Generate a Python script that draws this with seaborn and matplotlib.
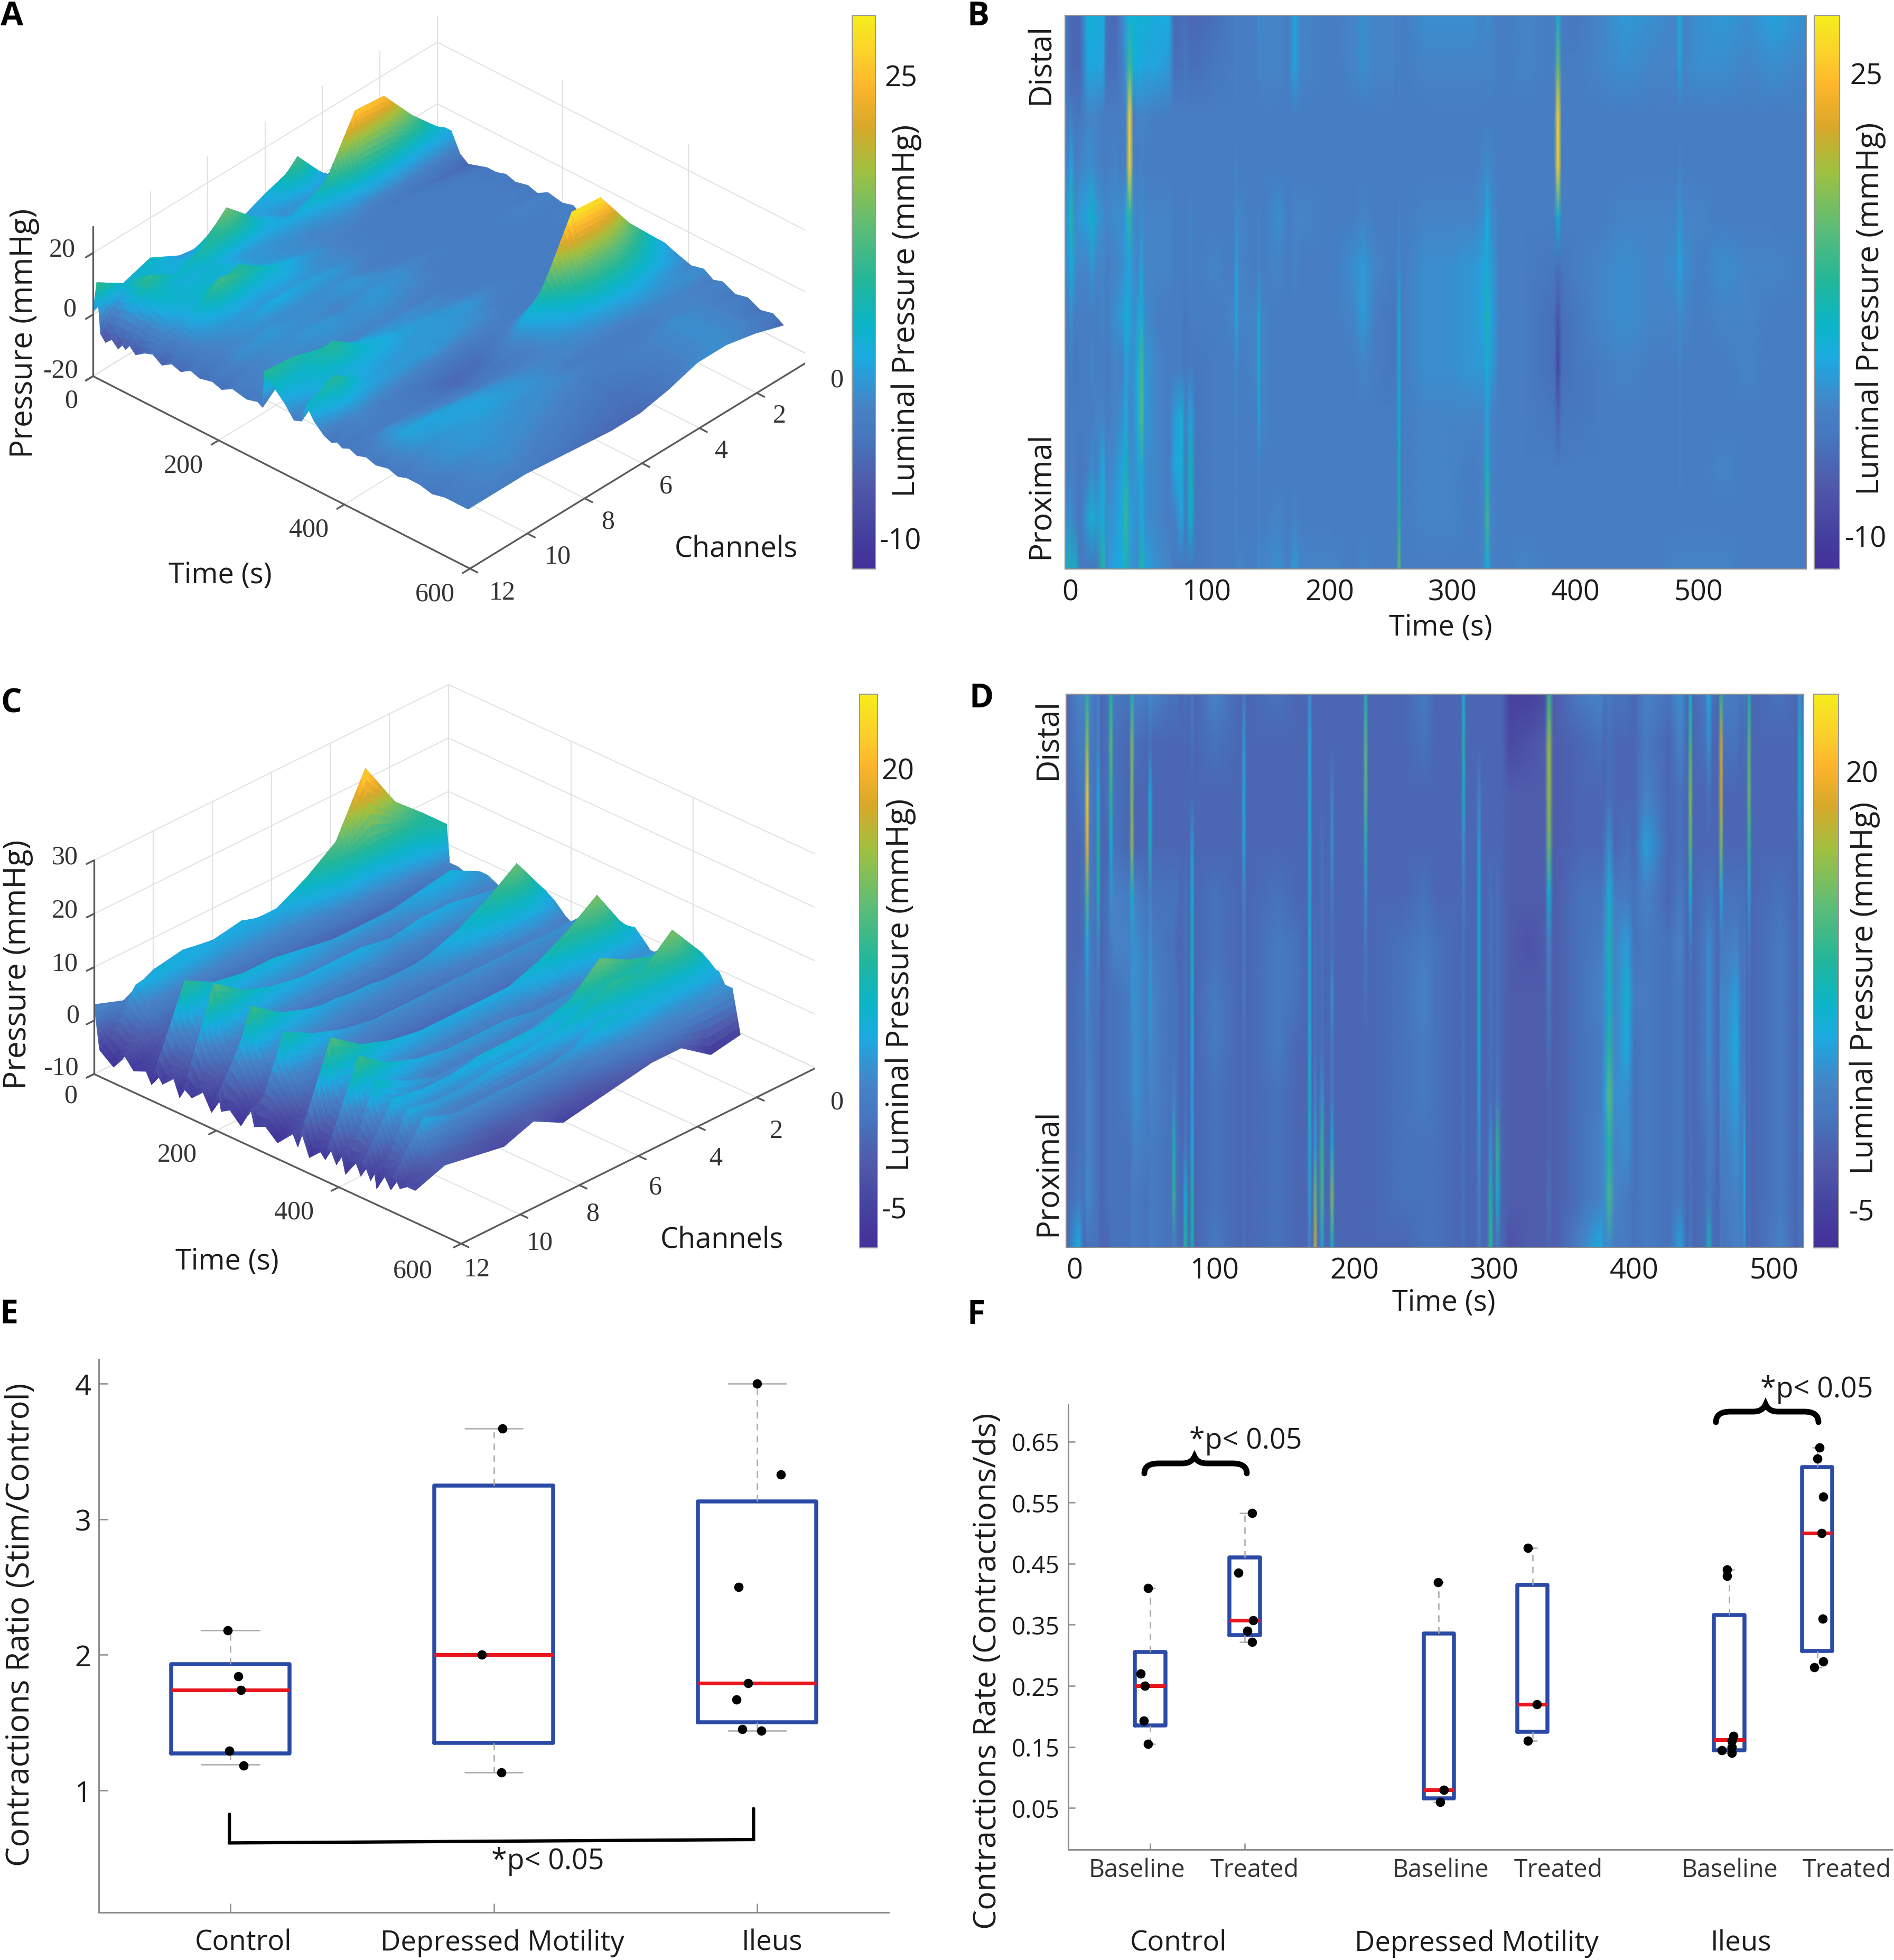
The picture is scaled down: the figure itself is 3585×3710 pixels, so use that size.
"""
Colonic manometry figure: two pressure surfaces, two heatmaps and two box plots.
"""
import matplotlib
matplotlib.use("Agg")
import matplotlib.pyplot as plt
import numpy as np
import seaborn as sns
from matplotlib.cm import ScalarMappable
from matplotlib.colors import LinearSegmentedColormap, Normalize
from matplotlib.patches import PathPatch
from matplotlib.path import Path
from mpl_toolkits.mplot3d import proj3d

W, H = 3585, 3711

channels = list(range(1, 13))

# colour scale
scale_stops = [0, 0.06, 0.15, 0.24, 0.29, 0.38, 0.44, 0.52, 0.62, 0.72, 0.80, 0.87, 0.93, 1]
scale_colors = ["#43309a", "#453f9e", "#5059aa", "#4677bf", "#4782c6", "#1caae0", "#0cb4c8",
                "#22b69a", "#5fbc76", "#a0c040", "#d8a82a", "#fcb42c", "#fbd02b", "#f5ec1c"]

a_range = (-12.25, 29.5)
c_range = (-7.17, 24.47)

# panel A surface, one row per time, channels 1-12
a_times = [0, 6, 12, 20, 30, 40, 47, 52, 58, 68, 82, 95, 110, 125, 140, 155, 170, 190, 205, 222, 245,
           262, 270, 273, 290, 305, 320, 332, 340, 352, 368, 380, 388, 397, 408, 420, 435, 450, 470,
           485, 500, 520, 540, 560, 580, 597]
a_surface = [
    [-1, -1, -1, -1, 8, 5, 1, 0, 2, 7, 4, 1],
    [-2, -1, -1, 0, 12, 3, 2, 3, 2, 6, 5, 11],
    [-1, -1, 0, 1, 9, 3, 3, 6, 3, 5, 6, -5],
    [-2, 0, 1, 2, 5, 2, 3, 10, 4, 5, 8, -7],
    [-1, 1, 2, 3, 2, 1, 6, 15, 6, 3, 9, -5],
    [0, 3, 8, 10, 4, 2, 5, 10, 9, 6, 11, -7],
    [2, 10, 18, 20, 7, 3, 4, 6, 7, 5, 8, -5],
    [3, 13, 25, 26, 9, 4, 3, 3, 5, 4, 7, -6],
    [4, 10, 16, 17, 6, 3, 2, 2, 5, 5, 7, -4],
    [4, 4, 6, 6, 3, 1, 1, 2, 6, 5, 6, -6],
    [-2, -1, 0, 0, 1, 0, 1, 2, 4, 6, 5, -4],
    [-4, -3, -2, -1, 0, 0, 1, 3, 9, 7, 3, -3],
    [-3, -2, -1, -1, -1, 0, 2, 5, 9, 12, 3, -5],
    [-2, -1, -1, -1, -1, 0, 1, 4, 4, 5, 2, -3],
    [-2, -1, -1, -1, -1, 0, 1, 2, 2, 2, 1, -4],
    [-1, -1, -1, -1, -1, 0, 2, 3, 4, 2, 0, -2],
    [-2, -1, -1, -1, -1, -1, 1, 1, 1, 1, 0, -3],
    [-1, -1, -1, -1, -1, 0, 2, 1, 1, 2, 1, -2],
    [-2, -1, -1, -1, 0, 1, 1, 0, 1, 1, 0, -3],
    [0, 0, -1, -1, -1, 1, 2, 1, 2, 1, 0, -1],
    [-1, -1, -1, -1, -1, 0, 1, 1, 1, 0, 1, -2],
    [0, -1, -1, -1, -1, -1, 0, 0, 0, 1, 2, -1],
    [-1, -1, -1, -1, -1, 0, 0, 1, 1, 3, 6, -2],
    [0, -1, -1, -1, -1, 0, 1, 1, 2, 6, 9, 10],
    [-1, -1, -1, -1, -1, 0, 1, 2, 4, 10, 6, 6],
    [0, -1, -1, -1, 0, 1, 2, 3, 5, 8, 5, 3],
    [-1, -1, -1, -1, 0, 2, 2, 2, 4, 4, 5, -1],
    [0, -1, -1, -1, -1, 1, 2, 2, 2, 4, 8, 0],
    [-1, -1, -1, -1, -1, 1, 2, 2, 2, 3, 10, 6],
    [0, -1, -1, -1, -1, 0, 1, 2, 2, 3, 6, 2],
    [-1, -1, -1, -1, -1, -1, -2, -2, -1, 0, 1, -1],
    [-1, 3, 6, 8, 3, -1, -3, -3, -2, -1, 0, -2],
    [1, 8, 17, 19, 6, 0, -3, -4, -2, -1, 0, -1],
    [3, 14, 28, 29, 10, 1, -3, -4, -2, -1, -1, -2],
    [3, 10, 19, 20, 7, 1, -2, -3, -2, -1, -1, -1],
    [2, 7, 12, 12, 5, 0, -2, -2, -1, 0, 1, -2],
    [1, 5, 7, 7, 3, 0, -1, -1, 0, 1, 2, -1],
    [0, 2, 4, 3, 1, 0, 0, 1, 2, 3, 3, -2],
    [1, 1, 1, 0, 0, 0, 1, 2, 3, 3, 2, -1],
    [-1, 0, 0, -1, -1, -1, 1, 2, 3, 2, 1, -2],
    [0, 0, 0, -1, -1, 0, 1, 1, 2, 2, 1, -1],
    [-2, 0, 1, 0, -1, -1, 0, 1, 1, 2, 1, -1],
    [-1, 0, 1, 0, -1, -2, -1, 0, 1, 1, 0, -2],
    [-3, 0, 1, 0, -2, -3, -2, -1, 0, 1, 0, -1],
    [-2, 0, 1, 0, -2, -3, -3, -2, -1, 0, 0, -1],
    [-4, -1, 1, 1, -2, -4, -4, -3, -2, -1, -1, -1],
]

# panel B heatmap, one row per time, channels 1-12
quiet = [-1, -1, -1, -1, -1, -1, -1, -1, -1, -1, -1, -1]
b_times = [0, 3, 5, 8, 12, 18, 22, 25, 31, 33, 40, 46, 49, 52, 55, 58, 62, 64, 75, 84, 88, 94, 97,
           101, 105, 120, 136, 138, 140, 154, 156, 158, 172, 180, 185, 190, 215, 232, 240, 250, 265,
           267, 269, 271, 290, 310, 330, 337, 340, 343, 350, 370, 394, 397, 400, 410, 430, 450, 475,
           492, 495, 498, 510, 530, 550, 570, 597]
b_pressure = [
    [-2, -2, -1, -1, 0, 0, -1, -1, -1, -1, 0, 3],
    [-3, -3, -1, 1, 4, 2, 0, -1, -1, -1, 1, 8],
    [-4, -4, -1, 3, 9, 5, 1, -1, -1, -1, 1, 2],
    [-4, -4, -2, -1, 1, 1, -1, -2, -1, -1, -1, 7],
    [-4, -4, -2, 0, 2, 0, -1, -1, -1, -2, -2, -2],
    [4, 3, 0, 1, 3, 0, -1, -1, -1, -1, 2, -2],
    [5, 4, 0, 1, 6, 2, -1, 0, -1, 1, 6, -2],
    [4, 3, 0, 0, 2, 0, -1, -1, 0, -1, 2, -2],
    [4, 3, -1, -1, 1, 0, 0, -1, 0, 4, 5, 9],
    [-3, -3, -1, -1, 0, -1, -1, -2, -1, 0, 1, 1],
    [-4, -3, -1, 0, 1, 0, 1, 0, 0, 1, 2, 3],
    [0, -1, -1, -1, 1, 1, 2, -1, 1, 3, 4, 4],
    [3, 2, 0, 0, 3, 2, 5, 3, 4, 7, 11, 8],
    [5, 12, 27, 27, 10, 3, 3, 1, 0, 1, 3, 2],
    [5, 5, -1, 0, 1, 1, 1, 1, 1, 1, 2, 1],
    [5, 4, 0, -1, 0, 0, 2, 4, 4, 2, 1, 1],
    [5, 4, 0, 0, 1, 3, 5, 12, 13, 5, 4, 9],
    [5, 3, 0, -1, 0, 0, 1, 2, 2, 1, 1, 3],
    [4, 3, -1, -1, 0, 0, -1, 0, 0, 0, 0, 1],
    [4, 2, -1, -1, 0, 0, -1, -1, -1, -1, -1, 0],
    [-4, -3, -1, -1, -1, -1, -1, -1, 2, 3, -1, -2],
    [-3, -3, -1, -1, -1, -1, -1, -1, 5, 5, 3, -2],
    [-3, -2, -1, -1, -1, -1, -2, -2, -1, -2, -2, -2],
    [-4, -3, -1, -1, 0, 0, -1, -1, 3, 7, 6, -2],
    [-4, -3, -1, -1, -1, -1, -1, -2, -2, -2, -2, -2],
    [-3, -2, -1, -1, -1, 0, -1, -1, -1, -1, -1, -1],
    [-1, -1, -1, -1, -1, -1, 0, -1, -1, -1, -1, -1],
    [0, 0, -1, 0, 1, 3, 4, 1, 0, 0, 0, 0],
    [-1, -1, -1, -1, 0, 0, 0, -1, -1, -1, -1, 0],
    [-1, -1, -1, -1, -1, -1, 0, 0, -1, -1, -1, -1],
    [1, 0, -1, -1, 0, 0, 5, 6, 3, 0, 0, 1],
    [0, 0, -1, -1, -1, -1, 0, 0, 0, -1, -1, 0],
    [0, 0, -1, -1, 1, 0, -1, -1, -1, -1, 0, 1],
    quiet,
    [3, 3, -1, -1, 0, 0, -1, -1, -1, -1, 0, 2],
    [0, 0, -1, -1, 0, -1, -1, -1, -1, -1, -1, 0],
    [-1, -1, -1, -1, -1, -1, -1, -1, -1, -1, -1, 0],
    [0, 0, -1, -1, -1, 1, 0, -1, -1, -1, -1, -1],
    [1, 1, -1, -1, 0, 2, 2, 0, -1, -1, -1, 0],
    [0, 0, -1, -1, -1, 0, -1, -1, -1, -1, -1, -1],
    [0, 0, -1, -1, -1, -1, -2, -2, -1, -1, -1, -1],
    quiet,
    [0, 0, -1, -1, 0, 1, 5, 5, 6, 7, 9, 14],
    quiet,
    [1, 0, -1, -1, 0, 1, 1, 1, 0, 0, 0, -1],
    [1, 0, -1, -1, 0, 1, 1, 1, 0, 0, 0, -1],
    [1, 0, -1, -1, 0, 2, 2, 2, 0, -1, -1, -1],
    [0, 0, -1, 0, 1, 3, 3, 2, 0, 0, 0, 0],
    [1, 0, -1, 1, 4, 5, 8, 5, 3, 7, 11, 5],
    [0, 0, -1, 0, 1, 2, 3, 2, 0, 0, 0, 0],
    quiet,
    [0, 0, -1, -1, -1, -1, -1, -1, -1, -1, -1, 0],
    [-1, -1, -1, -1, -1, -2, -3, -3, -2, -1, -1, -1],
    [5, 14, 27, 27, 6, -3, -7, -9, -5, -1, -1, -1],
    [-1, -1, -1, -1, -1, -2, -3, -3, -2, -1, -1, -1],
    [-2, -1, -1, -1, -1, -1, -2, -2, -2, -1, -1, -1],
    [0, 0, -1, -1, -1, 0, 0, -1, -1, -1, -1, -1],
    [2, 1, -1, -1, 0, 1, 1, 0, -1, -1, -1, -1],
    [1, 0, -1, -1, 0, 0, 0, -1, -1, -1, -1, -1],
    [0, 0, -1, -1, 0, 1, 0, -1, -1, -1, -1, 0],
    [4, 3, -1, 0, 2, 3, 1, 0, 0, 0, -1, 0],
    [0, 0, -1, -1, 0, 1, 0, -1, -1, -1, -1, 0],
    [1, 1, -1, -1, 0, -1, -1, -1, -1, -1, -1, 0],
    [2, 1, -1, -1, -1, 1, 0, -1, -1, 0, -1, 0],
    [1, 0, -1, -1, -1, 0, 0, 0, -1, -1, -1, -1],
    [3, 1, -1, -1, -1, 0, -1, -1, -1, -1, -1, -1],
    [1, 0, -1, -1, -1, -1, -1, -1, -1, -1, -1, -1],
]
b_tick_pos = [4, 114, 213, 312, 411, 510]
time_labels_b = ["0", "100", "200", "300", "400", "500"]

# panel C surface
c_times = [0, 9, 20, 32, 45, 50, 65, 85, 94, 100, 112, 130, 140, 147, 160, 178, 192, 203, 208, 222, 240,
           256, 262, 280, 300, 325, 333, 339, 352, 370, 378, 384, 396, 405, 411, 428, 436, 440, 452,
           458, 462, 475, 485, 490, 500, 512, 525]
c_surface = [
    [6, 8, 12, 8, 6, 3, 5, 4, 5, 4, 1, 3],
    [9, 14, 23, 12, 8, 5, 5, 5, 5, 5, 2, -5],
    [9, 10, 11, 9, 6, 4, 4, 4, 5, 6, 5, -6],
    [9, 7, 5, 5, 3, 2, 2, 2, 2, 3, 3, -7],
    [9, 3, 2, 1, 0, 0, -1, -1, -1, 0, 1, -5],
    [2, 0, 0, -1, -1, -2, -2, -2, -2, -1, 0, -4],
    [2, 0, -1, -2, -2, -3, -3, -3, -3, -3, -2, -6],
    [1, 0, -2, -3, -3, -4, -4, -4, -4, -4, -3, -5],
    [1, 0, -2, -3, -3, -4, -4, -4, -4, -4, -4, -7],
    [3, 6, 5, 4, 4, 4, 5, 6, 6, 7, 10, -4],
    [3, 4, 4, 2, 2, 2, 3, 3, 3, 5, 6, -6],
    [2, 1, 0, -1, -2, -2, -2, -1, -1, -1, 1, -4],
    [2, 1, -1, -2, -3, -3, -3, -3, -2, -2, -1, -7],
    [3, 4, 5, 5, 4, 5, 5, 5, 6, 8, 12, -5],
    [3, 3, 3, 2, 2, 3, 3, 3, 3, 4, 5, -6],
    [1, 1, 0, -1, -2, -2, -2, -2, -2, -1, 0, -4],
    [1, 1, 0, -2, -3, -4, -4, -4, -3, -3, -2, -7],
    [5, 11, 8, 5, 3, 3, 3, 4, 4, 5, 7, -3],
    [5, 13, 9, 6, 4, 3, 4, 4, 5, 7, 11, -6],
    [4, 8, 7, 5, 3, 2, 2, 2, 3, 3, 5, -5],
    [2, 3, 2, 1, -1, -2, -2, -2, -1, -1, 0, -7],
    [1, 1, 0, -2, -3, -4, -4, -4, -3, -3, -2, -3],
    [3, 3, 3, 3, 3, 3, 3, 3, 4, 6, 9, -6],
    [2, 2, 2, 1, 1, 0, 0, 0, 1, 2, 3, -5],
    [1, 0, -1, -2, -3, -3, -3, -3, -3, -2, -1, -7],
    [1, 0, -1, -3, -3, -4, -4, -4, -4, -3, -2, -4],
    [3, 8, 6, 4, 3, 3, 3, 3, 3, 5, 7, -6],
    [5, 14, 10, 7, 5, 5, 5, 5, 6, 8, 12, -3],
    [6, 9, 7, 5, 3, 2, 2, 2, 2, 3, 4, -7],
    [4, 4, 2, 0, -2, -3, -3, -3, -2, -1, 0, -5],
    [3, 3, 1, -1, -3, -4, -4, -3, -2, -1, 0, -6],
    [3, 4, 4, 3, 3, 4, 4, 4, 5, 7, 11, -3],
    [4, 4, 4, 3, 2, 1, 1, 1, 1, 3, 4, -6],
    [4, 3, 3, 2, 0, -2, -2, -2, -2, 0, 1, -4],
    [4, 4, 4, 5, 4, 3, 3, 3, 3, 5, 8, -7],
    [5, 5, 3, 2, 0, -2, -2, -2, -2, -1, 0, -4],
    [5, 5, 4, 3, 2, -1, -2, -2, -2, -2, -1, -6],
    [6, 8, 10, 13, 8, 6, 6, 6, 5, 5, 6, -3],
    [7, 10, 8, 7, 4, 2, 2, 1, 1, 1, 1, -6],
    [6, 9, 7, 5, 3, 1, 0, -1, -1, -1, -1, -4],
    [7, 14, 9, 10, 8, 6, 5, 5, 4, 4, 5, -7],
    [6, 9, 8, 6, 3, 1, 0, -1, -1, 0, 1, -4],
    [5, 5, 4, 3, 1, -2, -2, -2, -2, -2, -1, -6],
    [5, 6, 6, 6, 7, 4, 3, 3, 3, 3, 5, -3],
    [3, 3, 3, 4, 3, 1, 0, 0, -1, 0, 1, -5],
    [3, 3, 2, 2, 0, -2, -2, -2, -3, -2, -2, -4],
    [-5, -6, -2, -2, -3, -4, -5, -2, -4, -3, -2, -4],
]

# panel D heatmap
d_times = [-6, 3, 7, 9, 11, 15, 17, 19, 24, 26, 28, 39, 41, 43, 52, 54, 56, 69, 71, 73, 77, 79, 82, 84,
           86, 100, 119, 121, 123, 145, 160, 166, 168, 170, 172, 174, 177, 179, 182, 184, 186, 206, 208,
           210, 235, 250, 258, 276, 278, 280, 287, 289, 291, 295, 297, 300, 302, 305, 311, 325, 336, 339,
           342, 362, 376, 379, 382, 386, 395, 400, 408, 425, 433, 438, 440, 442, 451, 453, 456, 460, 462,
           464, 473, 477, 479, 480, 482, 484, 505, 516, 518, 522]
d_pressure = [
    quiet,
    [2, 1, 0, -1, -1, -1, 0, 0, 0, 0, 1, 5],
    [2, 1, 1, 0, 0, 0, 0, 0, 0, 0, 0, -1],
    [9, 15, 22, 20, 12, 5, 3, 2, 2, 2, 3, 0],
    [2, 1, 1, 1, 1, 1, 1, 1, 2, 2, 2, 0],
    [0, 0, 0, 0, 0, 0, 0, 0, 0, 0, 0, 0],
    [2, 2, 5, 9, 8, 2, 1, 0, 0, 0, 0, 0],
    quiet,
    [0, 0, 0, -1, 0, 0, 0, 0, 0, 0, 0, -1],
    [9, 12, 10, 6, 3, 1, 0, 0, 0, 0, 0, 0],
    [1, 0, 0, 0, 2, 2, 0, 0, 0, 0, 0, 0],
    [0, -1, -1, -1, 1, 2, 1, 1, 1, 0, 0, 0],
    [8, 14, 14, 15, 7, 3, 3, 2, 2, 1, 1, 1],
    [2, 0, -1, -1, 2, 3, 3, 3, 3, 2, 1, 1],
    [1, -1, -1, -1, 0, 1, 1, 1, 1, 1, 0, 0],
    [3, 0, 5, 8, 2, 3, 4, 3, 2, 1, 1, 1],
    [2, -1, -1, -1, 0, 1, 2, 2, 2, 1, 1, 1],
    [0, -1, -1, -1, 0, 0, 0, 0, 0, 0, 0, 0],
    [0, -1, -1, -1, 0, 0, 0, 0, 2, 8, 10, 1],
    [0, -1, -1, -1, 0, -1, 0, 0, 0, 0, 0, 0],
    quiet,
    [0, -1, -1, -1, 0, 0, 0, 0, 0, 1, 6, 9],
    quiet,
    [1, 0, -1, 4, 6, 7, 6, 5, 4, 5, 9, 8],
    quiet,
    [2, 0, -1, -1, 0, 0, 1, 1, 0, 0, 0, 1],
    quiet,
    [1, 4, 5, 5, 2, 1, 1, 0, 0, 0, 0, 0],
    quiet,
    [0, -1, -1, -1, 0, 1, 1, 1, 0, 0, 0, 0],
    [-1, -1, -1, -1, -1, 0, 0, -1, -1, -1, -1, -1],
    quiet,
    [3, 5, 6, 6, 6, 6, 6, 6, 7, 6, 4, 2],
    quiet,
    [-1, -1, -1, -1, -1, 0, 0, 0, 2, 4, 13, 17],
    quiet,
    [-1, -1, -1, 0, 0, 0, 0, 0, 3, 10, 11, 4],
    quiet,
    quiet,
    [-1, -1, 2, 3, 1, 0, 3, 1, 1, 6, 14, 7],
    quiet,
    [-1, -1, -1, -1, -1, -1, -1, -1, -1, -1, -1, -1],
    [8, 12, 12, 8, 3, 1, 0, -1, -1, -1, -1, -1],
    quiet,
    [-1, -1, -1, -1, -1, 0, 0, 0, 0, 0, 0, -1],
    [1, 0, -1, -1, 0, 1, 2, 1, 1, 0, 0, 0],
    [-1, -1, -1, -1, -1, 0, 0, 0, 0, 0, 0, 0],
    quiet,
    [6, 8, 7, 3, 1, 0, 0, 0, 0, 0, 0, 0],
    quiet,
    quiet,
    [-1, -1, 2, 4, 6, 6, 7, 6, 4, 3, 2, 1],
    quiet,
    quiet,
    [-1, -1, -1, -1, 0, 0, 0, 0, 0, 3, 9, 10],
    quiet,
    [-1, -1, -1, -1, 0, 0, 0, 0, 1, 10, 7, 1],
    [-1, -1, -1, -1, -1, -1, -1, -1, -1, -1, -1, -1],
    [-5, -4, -2, -2, -2, -2, -2, -2, -2, -2, -2, -3],
    [-5, -3, -2, -2, -2, -3, -2, -2, -2, -2, -2, -2],
    [-4, -2, -2, -2, -2, -2, -2, -2, -2, -2, -2, -2],
    [10, 15, 15, 13, 6, 2, 1, 0, -1, -1, 0, -1],
    [-2, -2, -2, -2, -2, -2, -2, -2, -2, -2, -2, -2],
    [1, -1, -1, -1, 0, 0, 0, 0, 0, 0, 0, 2],
    [2, 0, -1, -1, 0, 1, 2, 1, 1, 2, 2, 5],
    [0, -1, -1, 0, 2, 3, 3, 3, 4, 3, 3, 2],
    [1, 0, 0, 3, 6, 8, 7, 9, 12, 9, 11, 3],
    [0, -1, -1, -1, 1, 2, 2, 2, 3, 2, 2, 1],
    [0, -1, -1, 0, 1, 4, 6, 5, 3, 3, 1, 1],
    [-1, -1, -1, -1, 0, 0, 1, 0, 0, 0, 0, 0],
    [2, 1, 2, 4, 2, 1, 1, 1, 1, 1, 1, 1],
    [0, -1, -1, -1, -1, 0, 0, 0, 0, 0, 0, 0],
    [3, 2, 0, 0, 1, 2, 1, 1, 1, 1, 1, 4],
    quiet,
    [6, 11, 14, 12, 6, 1, 0, 0, 0, 0, 0, 1],
    quiet,
    [1, 0, -1, -1, 0, 1, 1, 1, 1, 0, 0, 0],
    [5, 3, 0, -1, 0, 3, 3, 3, 2, 1, 1, 8],
    [0, -1, -1, -1, 0, 1, 1, 1, 1, 1, 0, 0],
    quiet,
    [10, 18, 18, 14, 5, 1, 3, 3, 3, 2, 1, 1],
    [1, 0, -1, -1, 0, 1, 2, 2, 2, 1, 1, 0],
    [1, 0, -1, -1, 0, 2, 4, 5, 4, 3, 2, 2],
    [0, -1, -1, -1, 0, 0, 0, 0, 1, 1, 1, 1],
    [1, 0, -1, -1, 0, 1, 1, 1, 2, 5, 5, 3],
    quiet,
    [8, 12, 13, 10, 4, 1, 0, 0, 0, 0, 0, 0],
    quiet,
    [0, -1, -1, -1, 0, 1, 1, 1, 1, 1, 1, 2],
    quiet,
    [3, 7, 6, 3, 2, 1, 1, 1, 1, 1, 0, 0],
    quiet,
]
d_ticks = [0, 100, 200, 300, 400, 500]

# panel E, box statistics and points
e_groups = ["Control", "Depressed Motility", "Ileus"]
e_q1 = [1.27, 1.35, 1.5]
e_med = [1.74, 2.0, 1.79]
e_q3 = [1.93, 3.25, 3.13]
e_lo = [1.19, 1.13, 1.44]
e_hi = [2.18, 3.67, 4.0]
e_pt_group = [0, 0, 0, 0, 0, 1, 1, 1, 2, 2, 2, 2, 2, 2, 2]
e_pt_shift = [-0.011, 0.03, 0.04, -0.005, 0.05, 0.034, -0.045, 0.03, 0, 0.09, -0.07, -0.034, -0.078, -0.056, 0.016]
e_pt_value = [2.18, 1.84, 1.74, 1.29, 1.18, 3.67, 2.0, 1.13, 4.0, 3.33, 2.5, 1.79, 1.67, 1.45, 1.44]

# panel F
f_positions = [0, 1, 3.05, 4.04, 6.12, 7.05]
f_q1 = [0.185, 0.333, 0.066, 0.175, 0.145, 0.307]
f_med = [0.25, 0.357, 0.08, 0.22, 0.162, 0.50]
f_q3 = [0.305, 0.46, 0.336, 0.415, 0.366, 0.608]
f_lo = [0.155, 0.322, 0.06, 0.16, 0.14, 0.28]
f_hi = [0.41, 0.533, 0.42, 0.476, 0.44, 0.64]
f_pt_box = [0, 0, 0, 0, 0, 1, 1, 1, 1, 1, 2, 2, 2, 3, 3, 3, 4, 4, 4, 4, 4, 4, 4, 5, 5, 5, 5, 5, 5, 5]
f_pt_shift = [-0.025, -0.1, -0.057, -0.07, -0.025, 0.076, -0.07, 0.09, 0.025, 0.076, -0.006, 0.057, 0.013,
              -0.05, 0.045, -0.045, -0.02, -0.02, 0.045, 0.03, -0.08, 0.03, 0.03, 0.025, 0, 0.064, 0.05,
              0.057, 0.064, -0.03]
f_pt_value = [0.41, 0.27, 0.25, 0.193, 0.155, 0.533, 0.435, 0.357, 0.34, 0.322, 0.42, 0.08, 0.06,
              0.476, 0.22, 0.16, 0.44, 0.43, 0.168, 0.16, 0.145, 0.15, 0.14, 0.64, 0.622, 0.56, 0.5,
              0.36, 0.29, 0.28]

sns.set_theme(style="white")
plt.rcParams["font.family"] = ["Open Sans", "DejaVu Sans"]
plt.rcParams["axes.linewidth"] = 0.6

parula = LinearSegmentedColormap.from_list("parula_like", list(zip(scale_stops, scale_colors)))
fig = plt.figure(figsize=(W / 300, H / 300), dpi=300)

BLUE = "#2b4aa6"
RED = "#e9161e"
AXIS_GREY = "#8a8a8a"
TEXT = "#1c1c1c"
ROTATED_SIZE = 14
BAR_LABEL_SIZE = 14


def px_rect(left, top, right, bottom):
    return [left / W, 1 - bottom / H, (right - left) / W, (bottom - top) / H]


def put(x, y, text, size=13, **kwargs):
    kwargs.setdefault("color", TEXT)
    fig.text(x / W, 1 - y / H, text, ha="center", va="center", fontsize=size, **kwargs)


def screen(ax, x, y, z):
    xp, yp, _ = proj3d.proj_transform(x, y, z, ax.get_proj())
    return np.array(ax.transData.transform((xp, yp)))


def fit_box(ax, corner_a, corner_b, target_a, target_b):
    """Move and scale a 3D axes so that two box corners land on given pixels."""
    bbox = ax.get_position()
    side = bbox.width * W
    centre = np.array([bbox.x0 * W + side / 2, bbox.y0 * H + side / 2])
    pa, pb = screen(ax, *corner_a), screen(ax, *corner_b)
    ta = np.array([target_a[0], H - target_a[1]], dtype=float)
    tb = np.array([target_b[0], H - target_b[1]], dtype=float)
    scale = np.linalg.norm(tb - ta) / np.linalg.norm(pb - pa)
    new_centre = ta - scale * (pa - centre)
    new_side = side * scale
    ax.set_position([(new_centre[0] - new_side / 2) / W, (new_centre[1] - new_side / 2) / H,
                     new_side / W, new_side / H])


def finer(values, axis, steps):
    # facet subdivision only, stands in for MATLAB's "shading interp"
    values = np.asarray(values, dtype=float)
    n = values.shape[axis]
    old = np.arange(n)
    new = np.linspace(0, n - 1, (n - 1) * steps + 1)
    return np.apply_along_axis(lambda col: np.interp(new, old, col), axis, values)


def surface_panel(times, surface, color_range, zlim, zticks, view, aspect, left_px, right_px):
    ax = fig.add_axes(px_rect(0, 0, 2000, 2000), projection="3d", proj_type="ortho", computed_zorder=False)
    ax.set_axis_off()
    ax.patch.set_alpha(0)
    ax.view_init(elev=view[0], azim=view[1], roll=0)
    ax.set_box_aspect(aspect)
    ax.set_xlim(0, 600)
    ax.set_ylim(12, 0)
    ax.set_zlim(*zlim)

    grid = dict(color="#e2e2e2", lw=0.5, zorder=1)
    for t in (200, 400, 600):
        ax.plot([t, t], [0, 0], zlim, **grid)
    for t in (0, 200, 400):
        ax.plot([t, t], [0, 12], [zlim[0]] * 2, **grid)
    for ch in (0, 2, 4, 6, 8, 10):
        ax.plot([0, 0], [ch, ch], zlim, **grid)
        ax.plot([0, 600], [ch, ch], [zlim[0]] * 2, **grid)
    for z in zticks:
        ax.plot([0, 600], [0, 0], [z, z], **grid)
        ax.plot([0, 0], [0, 12], [z, z], **grid)

    tt, cc = np.meshgrid(finer(times, 0, 6), finer(channels, 0, 8), indexing="ij")
    zz = finer(finer(surface, 0, 6), 1, 8)
    surf = ax.plot_surface(tt, cc, zz, rstride=1, cstride=1, cmap=parula, norm=Normalize(*color_range),
                           linewidth=0, antialiased=True, shade=False, zorder=2)
    surf.set_edgecolor("face")
    surf.set_linewidth(0.25)

    line = dict(color="#5a5a5a", lw=0.8, zorder=3)
    ax.plot([0, 600], [12, 12], [zlim[0]] * 2, **line)
    ax.plot([600, 600], [12, 0], [zlim[0]] * 2, **line)
    ax.plot([0, 0], [12, 12], zlim, **line)
    for t in (0, 200, 400, 600):
        ax.plot([t, t], [12, 12.25], [zlim[0]] * 2, **line)
    for ch in (0, 2, 4, 6, 8, 10, 12):
        ax.plot([600, 612], [ch, ch], [zlim[0]] * 2, **line)
    for z in zticks:
        ax.plot([0, 0], [12, 12.25], [z, z], **line)

    fit_box(ax, (0, 12, zlim[0]), (600, 0, zlim[0]), left_px, right_px)
    return ax


def colorbar_panel(rect, color_range, ticks):
    cax = fig.add_axes(px_rect(*rect))
    bar = fig.colorbar(ScalarMappable(Normalize(*color_range), parula), cax=cax)
    bar.outline.set_edgecolor("#9a9a9a")
    bar.outline.set_linewidth(0.5)
    bar.set_ticks(ticks)
    bar.set_ticklabels([])
    cax.tick_params(axis="y", direction="in", length=3.2, width=0.5, color="#4a4a4a", right=True, left=False)


def heatmap_panel(rect, times, pressure, color_range, xlim, tick_pos, tick_labels):
    ax = fig.add_axes(px_rect(*rect))
    ax.pcolormesh(times, channels, np.array(pressure, dtype=float).T, shading="gouraud", cmap=parula,
                  norm=Normalize(*color_range), rasterized=True)
    ax.set_xlim(*xlim)
    ax.set_ylim(12, 1)
    ax.set_yticks([])
    ax.set_xticks(tick_pos, tick_labels, fontsize=13, color=TEXT)
    ax.tick_params(axis="x", length=0, pad=4)
    for spine in ax.spines.values():
        spine.set_edgecolor("#8f8f8f")
        spine.set_linewidth(0.5)
    return ax


def box_stats(q1, med, q3, lo, hi):
    return [dict(q1=a, med=b, q3=c, whislo=d, whishi=e, fliers=[]) for a, b, c, d, e in zip(q1, med, q3, lo, hi)]


def box_panel(ax, stats, positions, width, capwidth, point_x, point_y, point_size):
    ax.bxp(stats, positions=positions, widths=width, capwidths=capwidth, showfliers=False, manage_ticks=False,
           boxprops=dict(color=BLUE, lw=1.8),
           medianprops=dict(color=RED, lw=1.7, solid_capstyle="butt"),
           whiskerprops=dict(color="#a8a8a8", lw=0.6, ls=(0, (5, 4))),
           capprops=dict(color="#a8a8a8", lw=0.6))
    sns.scatterplot(x=point_x, y=point_y, color="black", s=point_size, linewidth=0, legend=False, ax=ax, zorder=5)
    sns.despine(ax=ax)
    for side in ("left", "bottom"):
        ax.spines[side].set_color(AXIS_GREY)
        ax.spines[side].set_linewidth(0.7)
    ax.patch.set_alpha(0)


def brace(x0, x1, mid, y_end, y_flat, y_tip):
    def pt(x, y):
        return (x / W, 1 - y / H)
    w = x1 - x0
    verts = [pt(x0, y_end), pt(x0, y_flat), pt(x0 + 0.14 * w, y_flat),
             pt(mid - 0.12 * w, y_flat), pt(mid - 0.03 * w, y_flat), pt(mid, y_tip),
             pt(mid + 0.03 * w, y_flat), pt(mid + 0.12 * w, y_flat),
             pt(x1 - 0.14 * w, y_flat), pt(x1, y_flat), pt(x1, y_end)]
    codes = [Path.MOVETO, Path.CURVE3, Path.CURVE3, Path.LINETO, Path.CURVE3, Path.CURVE3,
             Path.CURVE3, Path.CURVE3, Path.LINETO, Path.CURVE3, Path.CURVE3]
    fig.add_artist(PathPatch(Path(verts, codes), fill=False, edgecolor="black", lw=2.6,
                             capstyle="round", transform=fig.transFigure))


SERIF = dict(family="Liberation Serif", size=12, color="#333333")

# A
surface_panel(a_times, a_surface, a_range, (-20, 28.5), (-20, 0, 20), (34, -47.6), (1, 1, 0.353), (176, 713), (1541, 678))
for text, x, y in zip(["0", "200", "400", "600"], [135, 347, 585, 823], [759, 882, 1003, 1125]):
    put(x, y, text, **SERIF)
for text, x, y in zip(["12", "10", "8", "6", "4", "2", "0"],
                      [951, 1056, 1151, 1260, 1366, 1475, 1584], [1123, 1054, 988, 921, 855, 788, 720]):
    put(x, y, text, **SERIF)
for text, x, y in zip(["20", "0", "-20"], [118, 132, 114], [473, 586, 702]):
    put(x, y, text, **SERIF)
put(46, 631, "Pressure (mmHg)", rotation=90, size=ROTATED_SIZE)
put(417, 1090, "Time (s)")
put(1393, 1039, "Channels")
colorbar_panel((1613, 30, 1657, 1078), a_range, [-10, -5, 0, 5, 10, 15, 20, 25])
put(1705, 149, "25")
put(1705, 1025, "-10")
put(1716, 588, "Luminal Pressure (mmHg)", rotation=90, size=BAR_LABEL_SIZE)

# B
heatmap_panel((2016, 30, 3419, 1078), b_times, b_pressure, a_range, (0, 597), b_tick_pos, time_labels_b)
colorbar_panel((3434, 30, 3482, 1078), a_range, [-10, -5, 0, 5, 10, 15, 20, 25])
put(3532, 145, "25")
put(3532, 1021, "-10")
put(3541, 584, "Luminal Pressure (mmHg)", rotation=90, size=BAR_LABEL_SIZE)
put(1971, 121, "Distal", rotation=90, size=ROTATED_SIZE)
put(1971, 938, "Proximal", rotation=90, size=ROTATED_SIZE)
put(2727, 1188, "Time (s)")

# C
surface_panel(c_times, c_surface, c_range, (-10, 30), (-10, 0, 10, 20, 30), (28.6, -46), (1, 1, 0.477), (178, 2034), (1544, 2045))
for text, x, y in zip(["0", "200", "400", "600"], [134, 335, 557, 781], [2075, 2186, 2295, 2406]):
    put(x, y, text, **SERIF)
for text, x, y in zip(["12", "10", "8", "6", "4", "2", "0"],
                      [903, 1022, 1122, 1240, 1355, 1469, 1584], [2404, 2353, 2298, 2248, 2194, 2142, 2087]):
    put(x, y, text, **SERIF)
for text, x, y in zip(["30", "20", "10", "0", "-10"], [123, 123, 123, 138, 115], [1623, 1724, 1825, 1923, 2022]):
    put(x, y, text, **SERIF)
put(34, 1826, "Pressure (mmHg)", rotation=90, size=ROTATED_SIZE)
put(430, 2389, "Time (s)")
put(1366, 2347, "Channels")
colorbar_panel((1627, 1315, 1661, 2363), c_range, [-5, 0, 5, 10, 15, 20])
put(1699, 1461, "20")
put(1693, 2291, "-5")
put(1705, 1864, "Luminal Pressure (mmHg)", rotation=90, size=BAR_LABEL_SIZE)

# D
heatmap_panel((2018, 1315, 3414, 2362), d_times, d_pressure, c_range, (-6, 521), d_ticks, [str(t) for t in d_ticks])
colorbar_panel((3433, 1315, 3480, 2363), c_range, [-5, 0, 5, 10, 15, 20])
put(3524, 1466, "20")
put(3524, 2295, "-5")
put(3530, 1870, "Luminal Pressure (mmHg)", rotation=90, size=BAR_LABEL_SIZE)
put(1985, 1400, "Distal", rotation=90, size=ROTATED_SIZE)
put(1985, 2220, "Proximal", rotation=90, size=ROTATED_SIZE)
put(2733, 2466, "Time (s)")

# E
ax_e = fig.add_axes(px_rect(187, 2574, 1682, 3621))
box_panel(ax_e, box_stats(e_q1, e_med, e_q3, e_lo, e_hi), [0, 1, 2], 0.45, 0.22,
          np.array(e_pt_group) + np.array(e_pt_shift), np.array(e_pt_value), 18)
ax_e.set_xlim(-0.5, 2.5)
ax_e.set_ylim(0.098, 4.18)
ax_e.set_xticks([0, 1, 2], [])
ax_e.set_yticks([1, 2, 3, 4], ["1", "2", "3", "4"], fontsize=13, color=TEXT)
ax_e.tick_params(axis="both", direction="in", length=4, width=0.6, color=AXIS_GREY, pad=3.5, left=True, bottom=True)
ax_e.plot([-0.004, -0.004, 1.987, 1.987], [0.823, 0.611, 0.636, 0.864], color="black", lw=1.5, solid_joinstyle="miter")
ax_e.text(1.206, 0.478, "*p< 0.05", ha="center", va="center", fontsize=12.9, color=TEXT)
for name, x in zip(e_groups, [460, 951, 1462]):
    put(x, 3678, name, size=12.7)
put(39, 3075, "Contractions Ratio (Stim/Control)", rotation=90, size=14.3)

# F
ax_f = fig.add_axes(px_rect(2022, 2659, 3581, 3502))
box_panel(ax_f, box_stats(f_q1, f_med, f_q3, f_lo, f_hi), f_positions, 0.32, 0.1,
          np.array(f_positions)[f_pt_box] + np.array(f_pt_shift), np.array(f_pt_value), 18)
ax_f.set_xlim(-0.866, 7.84)
ax_f.set_ylim(-0.018, 0.711)
ax_f.set_xticks([0, 1], [])
f_ticks = [0.05, 0.15, 0.25, 0.35, 0.45, 0.55, 0.65]
ax_f.set_yticks(f_ticks, [f"{v:.2f}" for v in f_ticks], fontsize=11, color=TEXT)
ax_f.tick_params(axis="both", direction="in", length=3, width=0.6, color=AXIS_GREY, pad=4, left=True, bottom=True)
for name, x in zip(["Baseline", "Treated"] * 3, [2152, 2375, 2727, 2950, 3274, 3496]):
    put(x, 3540, name, size=11.2, color="#333333")
for name, x in zip(e_groups, [2230, 2795, 3296]):
    put(x, 3679, name, size=12.7)
put(1870, 3163, "Contractions Rate (Contractions/ds)", rotation=90, size=14.2)
put(2358, 2728, "*p< 0.05", size=12.9)
put(3439, 2630, "*p< 0.05", size=12.9)
brace(2166, 2360, 2261, 2790, 2771, 2758)
brace(3248, 3442, 3342, 2693, 2673, 2659)

for letter, x, y in zip("ABCDEF", [23, 1851, 21, 1857, 17, 1848], [31, 31, 1332, 1323, 2489, 2490]):
    put(x, y, letter, size=15, fontweight="bold", color="black")

fig.savefig("out.png", dpi=300)
